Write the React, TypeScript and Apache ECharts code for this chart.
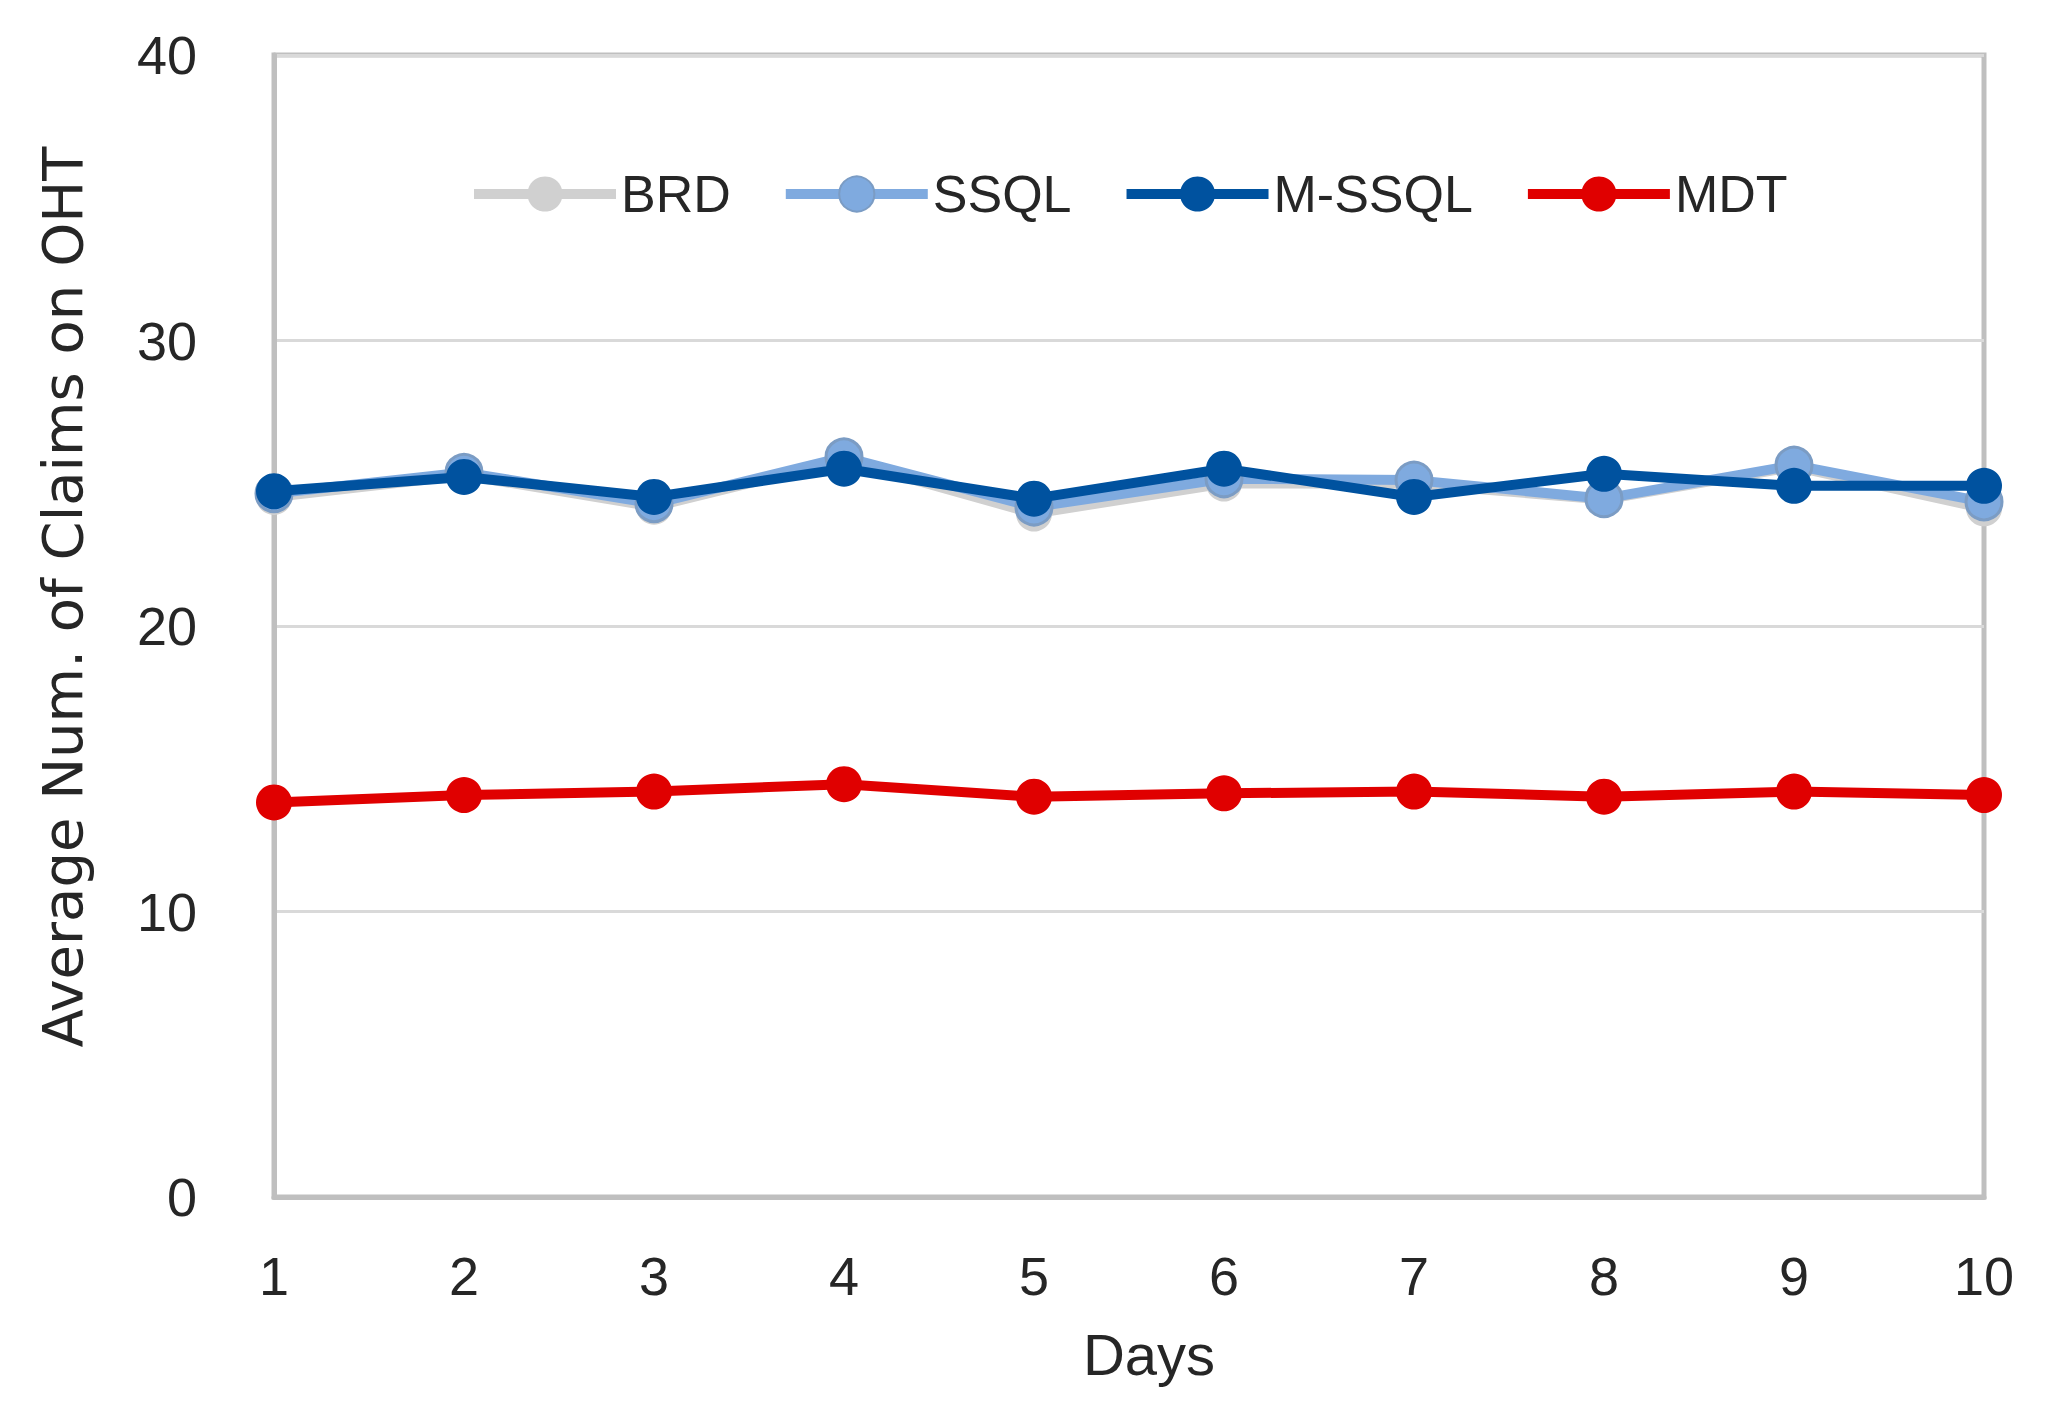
import React, { useEffect, useRef } from "react";
import * as echarts from "echarts";

const days = ["1", "2", "3", "4", "5", "6", "7", "8", "9", "10"];
const brd = [24.52, 25.28, 24.18, 25.81, 23.94, 24.99, 24.98, 24.43, 25.58, 24.12];
const ssql = [24.64, 25.38, 24.29, 25.92, 24.17, 25.16, 25.11, 24.46, 25.63, 24.35];
const mssql = [24.72, 25.22, 24.52, 25.51, 24.46, 25.51, 24.52, 25.33, 24.91, 24.91];
const mdt = [13.82, 14.08, 14.2, 14.46, 14.02, 14.14, 14.2, 14.02, 14.2, 14.08];
const yTicks = [0, 10, 20, 30, 40];

const narrow = "'Liberation Sans Narrow', 'Arial Narrow', 'Liberation Sans', sans-serif";

export default function App() {
  const ref = useRef<HTMLDivElement>(null);
  useEffect(() => {
    document.body.style.margin = "0";
    const chart = echarts.init(ref.current!, null, { renderer: "svg" });
    const mk = (name: string, data: number[], color: string, borderColor: string, z: number) => ({
      name,
      type: "line",
      data,
      z,
      symbol: "circle",
      symbolSize: 36,
      lineStyle: { color, width: 10 },
      itemStyle: { color, borderColor, borderWidth: borderColor === color ? 0 : 3 },
      emphasis: { disabled: true },
    });
    chart.setOption({
      animation: false,
      backgroundColor: "#ffffff",
      grid: { left: 274, right: 69, top: 55, bottom: 223, show: true, borderColor: "#BFBFBF", borderWidth: 5, backgroundColor: "transparent" },
      legend: {
        top: 163,
        left: 464,
        itemWidth: 142,
        itemHeight: 44,
        itemGap: 50,
        lineStyle: { width: 10 },
        textStyle: { fontFamily: narrow, fontSize: 52, color: "#262626" },
        data: ["BRD", "SSQL", "M-SSQL", "MDT"],
      },
      xAxis: {
        type: "category",
        data: days,
        boundaryGap: false,
        axisLine: { show: true, lineStyle: { color: "#BFBFBF", width: 5 } },
        axisTick: { show: false },
        axisLabel: { fontFamily: narrow, fontSize: 54, color: "#262626", margin: 52 },
        splitLine: { show: false },
        name: "Days",
        nameLocation: "middle",
        nameGap: 128,
        nameTextStyle: { fontFamily: narrow, fontSize: 58, color: "#262626", padding: [0, 0, 0, 40] },
      },
      yAxis: {
        type: "value",
        min: yTicks[0],
        max: yTicks[yTicks.length - 1],
        interval: 10,
        axisLine: { show: true, lineStyle: { color: "#BFBFBF", width: 5 } },
        axisTick: { show: false },
        axisLabel: { fontFamily: narrow, fontSize: 54, color: "#262626", margin: 77 },
        splitLine: { show: true, lineStyle: { color: "#D9D9D9", width: 3 } },
        name: "Average Num. of Claims on OHT",
        nameLocation: "middle",
        nameGap: 184,
        nameRotate: 90,
        nameTextStyle: { fontFamily: "'DejaVu Sans', sans-serif", fontSize: 56, color: "#262626", padding: [0, 0, 0, 58] },
      },
      series: [
        mk("BRD", brd, "#D0D0D0", "#D0D0D0", 2),
        mk("SSQL", ssql, "#7FAADF", "#7B9CC4", 3),
        mk("M-SSQL", mssql, "#00529F", "#00529F", 4),
        mk("MDT", mdt, "#E00000", "#E00000", 5),
      ],
    });
    return () => chart.dispose();
  }, []);
  return <div ref={ref} style={{ width: 2053, height: 1420 }} />;
}
